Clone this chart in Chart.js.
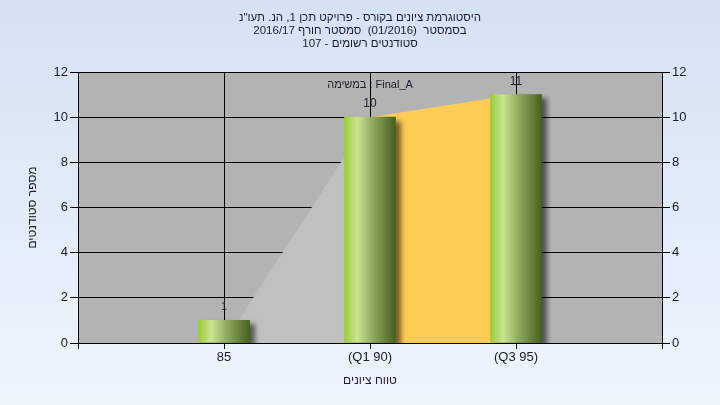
<!DOCTYPE html>
<html>
<head>
<meta charset="utf-8">
<script src="https://cdn.jsdelivr.net/npm/chart.js@4/dist/chart.umd.min.js"></script>
<style>
  body { margin: 0; background: #e4edf8; }
  canvas { display: block; }
</style>
</head>
<body>
<canvas id="chart" width="720" height="405"></canvas>
<script>
// Chart data
const categories = ['85', '(Q1 90)', '(Q3 95)'];
const studentCounts = [1, 10, 11];
// area behind the bars: outer part (gray) and the Q1..Q3 range (yellow)
const outerArea = [0, 10];
const quartileArea = [10, 11];
const yTicks = [0, 2, 4, 6, 8, 10, 12];

const titleLines = [
  'היסטוגרמת ציונים בקורס - פרויקט תכן 1, הנ. תעו"נ',
  'בסמסטר  (01/2016)  סמסטר חורף 2016/17',
  'סטודנטים רשומים - 107'
];
const taskLabel = 'במשימה : Final_A';
const xTitle = 'טווח ציונים';
const yTitle = 'מספר סטודנטים';

const FONT = '"Liberation Sans", "DejaVu Sans", sans-serif';
const TEXT = '#1c1c2c';

// Horizontal cylinder-like gradient for each bar.
function barGradient(context) {
  const chart = context.chart;
  const xs = chart.scales.x;
  if (!chart.chartArea || !xs || context.type !== 'data') return '#9ccc3c';
  const cx = xs.getPixelForValue(context.raw.x);
  const g = chart.ctx.createLinearGradient(cx - 25.5, 0, cx + 25.5, 0);
  g.addColorStop(0, '#9ccb3a');
  g.addColorStop(0.25, '#c9e590');
  g.addColorStop(0.55, '#8fab62');
  g.addColorStop(1, '#46601f');
  return g;
}

// Page background and plot area fill.
const backgroundPlugin = {
  id: 'background',
  beforeDraw(chart) {
    const { ctx, width, height, chartArea } = chart;
    const g = ctx.createLinearGradient(0, 0, 0, height);
    g.addColorStop(0, '#d5e2f3');
    g.addColorStop(1, '#eef5fd');
    ctx.save();
    ctx.fillStyle = g;
    ctx.fillRect(0, 0, width, height);
    ctx.fillStyle = '#b3b3b3';
    ctx.fillRect(chartArea.left, chartArea.top, chartArea.right - chartArea.left, chartArea.bottom - chartArea.top);
    ctx.restore();
  }
};

// Drop shadow under the bars.
const shadowPlugin = {
  id: 'barShadow',
  beforeDatasetDraw(chart, args) {
    if (args.index !== 0) return;
    const ctx = chart.ctx;
    ctx.save();
    ctx.shadowColor = 'rgba(0,0,0,0.55)';
    ctx.shadowBlur = 5;
    ctx.shadowOffsetX = 5;
    ctx.shadowOffsetY = 4;
  },
  afterDatasetDraw(chart, args) {
    if (args.index !== 0) return;
    chart.ctx.restore();
  }
};

// Value labels above the bars and the task label.
const labelsPlugin = {
  id: 'valueLabels',
  afterDatasetsDraw(chart) {
    const ctx = chart.ctx;
    const meta = chart.getDatasetMeta(0);
    ctx.save();
    ctx.fillStyle = TEXT;
    ctx.textAlign = 'center';
    ctx.textBaseline = 'middle';
    meta.data.forEach((bar, i) => {
      ctx.font = (studentCounts[i] < 10 ? '11px ' : '12px ') + FONT;
      ctx.fillText(String(studentCounts[i]), bar.x, bar.y - 13);
    });
    const area = chart.chartArea;
    ctx.font = '11px ' + FONT;
    ctx.fillText(taskLabel, chart.scales.x.getPixelForValue(1), area.top + 13);
    ctx.restore();
  }
};

new Chart(document.getElementById('chart'), {
  type: 'bar',
  data: {
    datasets: [
      {
        data: studentCounts.map((v, i) => ({ x: i, y: v })),
        backgroundColor: barGradient,
        borderWidth: 0,
        barThickness: 51
      },
      {
        type: 'line',
        data: outerArea.map((v, i) => ({ x: i, y: v })),
        fill: 'origin',
        backgroundColor: '#c0c0c0',
        borderWidth: 0,
        pointRadius: 0,
        tension: 0
      },
      {
        type: 'line',
        data: quartileArea.map((v, i) => ({ x: i + 1, y: v })),
        fill: 'origin',
        backgroundColor: '#ffcb57',
        borderWidth: 0,
        pointRadius: 0,
        tension: 0
      }
    ]
  },
  options: {
    responsive: false,
    animation: false,
    layout: { padding: 0 },
    plugins: {
      legend: { display: false },
      tooltip: { enabled: false },
      title: {
        display: true,
        text: titleLines,
        color: TEXT,
        font: { family: FONT, size: 11.5, weight: 'normal', lineHeight: '13px' },
        padding: { top: 11, bottom: 22 }
      }
    },
    scales: {
      x: {
        type: 'linear',
        min: -1,
        max: 3,
        offset: false,
        afterBuildTicks: s => { s.ticks = [-1, 0, 1, 2, 3].map(v => ({ value: v })); },
        afterFit: s => { s.height = 62; },
        grid: { color: '#000', lineWidth: 1, tickLength: 6, offset: false },
        border: { color: '#000' },
        ticks: {
          autoSkip: false,
          maxRotation: 0,
          padding: 1,
          color: TEXT,
          font: { family: FONT, size: 13 },
          callback: v => categories[v] ?? ''
        },
        title: {
          display: true,
          text: xTitle,
          color: '#2a1a40',
          font: { family: FONT, size: 12 },
          padding: { top: 0, bottom: 17 }
        }
      },
      y: {
        min: 0,
        max: 12,
        afterBuildTicks: s => { s.ticks = yTicks.map(v => ({ value: v })); },
        afterFit: s => { s.width = 78; },
        grid: { color: '#000', lineWidth: 1, tickLength: 8 },
        border: { color: '#000' },
        ticks: { padding: 2, color: TEXT, font: { family: FONT, size: 13 } },
        title: {
          display: true,
          text: yTitle,
          color: TEXT,
          font: { family: FONT, size: 12 },
          padding: { top: 25, bottom: 0 }
        }
      },
      y2: {
        position: 'right',
        min: 0,
        max: 12,
        afterBuildTicks: s => { s.ticks = yTicks.map(v => ({ value: v })); },
        afterFit: s => { s.width = 58; },
        grid: { drawOnChartArea: false, color: '#000', tickLength: 8 },
        border: { color: '#000' },
        ticks: { padding: 2, color: TEXT, font: { family: FONT, size: 13 } }
      }
    }
  },
  plugins: [backgroundPlugin, shadowPlugin, labelsPlugin]
});
</script>
</body>
</html>
